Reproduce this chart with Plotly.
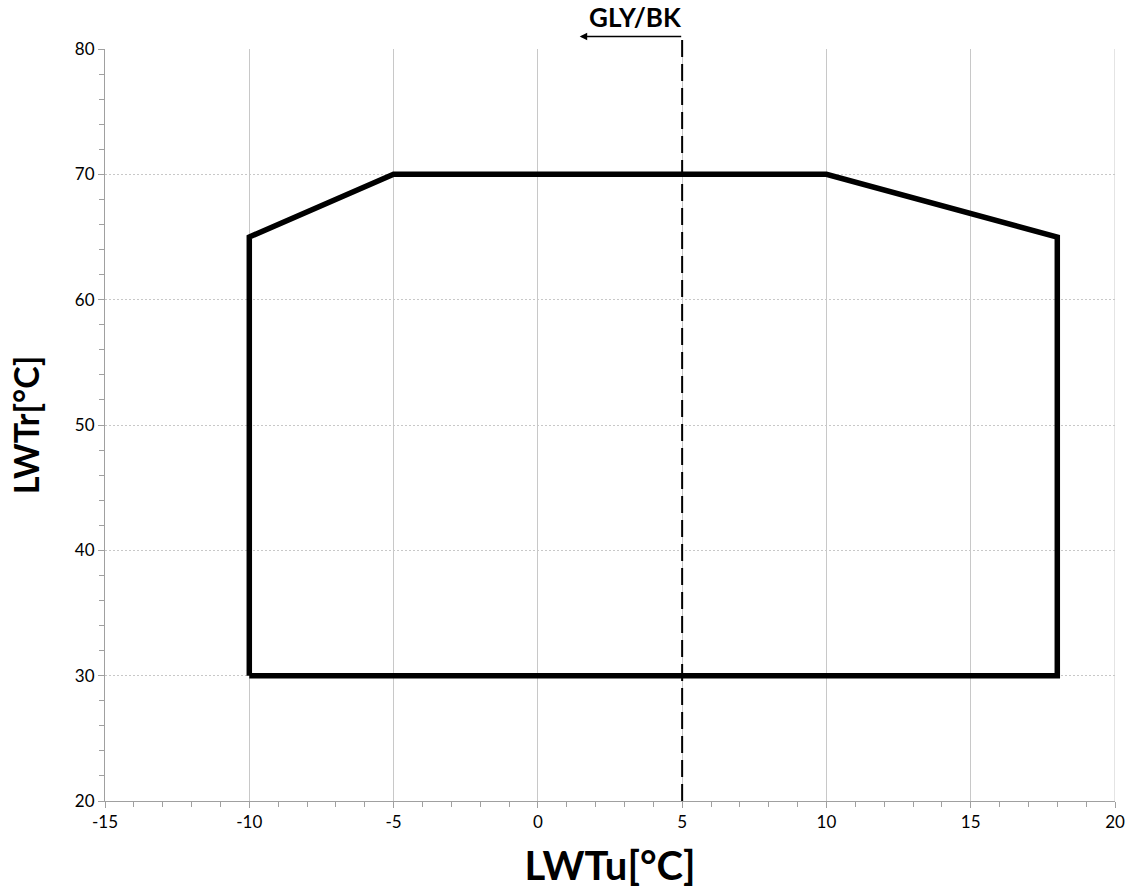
import plotly.graph_objects as go

# Envelope polygon (LWTu, LWTr)
env_x = [-10, -10, -5, 10, 18, 18, -10]
env_y = [30, 65, 70, 70, 65, 30, 30]

# Glycol / brine limit
gly_x = 5
gly_label = "GLY/BK"

x_range = [-15, 20]
y_range = [20, 80]
x_ticks = [-15, -10, -5, 0, 5, 10, 15, 20]
y_ticks = [20, 30, 40, 50, 60, 70, 80]

FONT = "Lato, Carlito, Calibri, sans-serif"

fig = go.Figure()
fig.add_trace(go.Scatter(
    x=env_x, y=env_y, mode="lines",
    line=dict(color="black", width=5.5),
    showlegend=False, hoverinfo="skip",
))

# Dashed limit line extending above the plot
fig.add_shape(type="line", xref="x", yref="paper",
              x0=gly_x, x1=gly_x, y0=0, y1=1.0165,
              line=dict(color="black", width=2, dash="17px,7px"))
# Arrow pointing left
fig.add_annotation(x=1.45, y=1.0165, xref="x", yref="paper",
                   ax=103, ay=0, axref="pixel", ayref="pixel",
                   showarrow=True, arrowhead=2, arrowsize=1, arrowwidth=1.5,
                   arrowcolor="black", text="")
fig.add_annotation(x=3.4, y=1.042, xref="x", yref="paper",
                   text="<b>" + gly_label + "</b>", showarrow=False,
                   font=dict(family=FONT, size=26, color="black"),
                   yanchor="middle")

fig.update_layout(
    width=1128, height=889,
    margin=dict(l=105, r=13, t=49, b=88),
    paper_bgcolor="white", plot_bgcolor="white",
    font=dict(family=FONT, size=17, color="black"),
    showlegend=False,
)
fig.update_xaxes(
    range=x_range, tickvals=x_ticks, ticktext=[str(v) for v in x_ticks],
    showgrid=True, gridcolor="#c8c8c8", gridwidth=1,
    showline=True, linecolor="#a0a0a0", linewidth=1, mirror=False,
    ticks="outside", ticklen=6, tickcolor="#a0a0a0",
    minor=dict(dtick=1, ticks="outside", ticklen=5, tickcolor="#a0a0a0", showgrid=False),
    zeroline=False, automargin=False,
    title=dict(text="<b>LWTu[°C]</b>", font=dict(family=FONT, size=40), standoff=20),
    tickfont=dict(size=17),
)
fig.update_yaxes(
    range=y_range, tickvals=y_ticks, ticktext=[str(v) for v in y_ticks],
    showgrid=True, gridcolor="#c8c8c8", gridwidth=1, griddash="2px,2px",
    showline=True, linecolor="#a0a0a0", linewidth=1,
    ticks="outside", ticklen=6, tickcolor="#a0a0a0",
    minor=dict(dtick=2, ticks="outside", ticklen=5, tickcolor="#a0a0a0", showgrid=False),
    zeroline=False, automargin=False,
    title=dict(text="<b>LWTr[°C]</b>", font=dict(family=FONT, size=34), standoff=24),
    tickfont=dict(size=17),
)
# Right border gridline at 20 (solid)
fig.add_shape(type="line", xref="x", yref="paper", x0=20, x1=20, y0=0, y1=1,
              line=dict(color="#c8c8c8", width=1), layer="below")

fig.write_html(
    "out.html",
    config={"displayModeBar": False},
    post_script="document.body.style.margin='0';document.body.style.overflow='hidden';",
)
